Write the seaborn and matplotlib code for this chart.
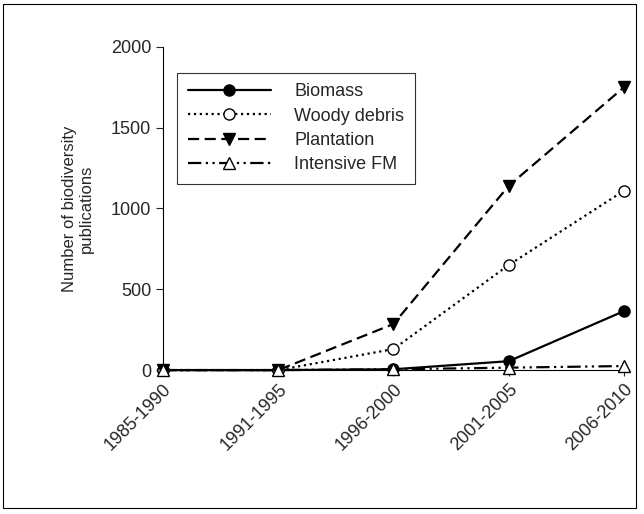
import matplotlib
matplotlib.use("Agg")
import matplotlib.pyplot as plt
import seaborn as sns
import pandas as pd
from matplotlib.patches import Rectangle

periods = ["1985-1990", "1991-1995", "1996-2000", "2001-2005", "2006-2010"]
biomass = [0, 0, 5, 55, 365]
woody = [0, 0, 130, 650, 1110]
plantation = [0, 0, 285, 1140, 1750]
intensive = [0, 0, 5, 15, 25]

series = {
    "Biomass": (biomass, "-", "o", "black"),
    "Woody debris": (woody, ":", "o", "white"),
    "Plantation": (plantation, (0, (5, 2.5)), "v", "black"),
    "Intensive FM": (intensive, (0, (6, 2, 1, 2, 1, 2)), "^", "white"),
}

sns.set_style("white")
plt.rcParams["font.family"] = ["Liberation Sans", "DejaVu Sans"]

fig = plt.figure(figsize=(6.44, 5.14), dpi=100)
ax = fig.add_axes([0.253, 0.280, 0.716, 0.629])

for name, (vals, ls, mk, fc) in series.items():
    df = pd.DataFrame({"x": list(range(len(periods))), "y": vals})
    sns.lineplot(data=df, x="x", y="y", ax=ax, color="black", linestyle=ls,
                 marker=mk, markerfacecolor=fc, markeredgecolor="black",
                 markersize=8, markeredgewidth=1.0, linewidth=1.6, label=name,
                 clip_on=False, zorder=3)

ax.set_xlim(0, 4)
ax.set_ylim(0, 2000)
ax.set_yticks([0, 500, 1000, 1500, 2000])
ax.set_xticks(range(len(periods)))
ax.set_xticklabels(periods, rotation=45, ha="right", rotation_mode="anchor", fontsize=13)
ax.tick_params(axis="y", labelsize=13, length=5, direction="out", left=True, width=0.8)
ax.tick_params(axis="x", length=4, direction="out", bottom=True, width=0.8)
ax.set_xlabel("")
ax.set_ylabel("Number of biodiversity\npublications", fontsize=12, labelpad=12)
for s in ["top", "right"]:
    ax.spines[s].set_visible(False)
for s in ["left", "bottom"]:
    ax.spines[s].set_color("black")
    ax.spines[s].set_linewidth(0.8)

leg = ax.legend(loc="upper left", bbox_to_anchor=(0.03, 0.92), borderaxespad=0,
                fontsize=13, frameon=True, fancybox=False, edgecolor="black",
                handlelength=4.6, handletextpad=1.3, borderpad=0.6, labelspacing=0.4)
leg.get_frame().set_linewidth(0.8)

fig.patches.append(Rectangle((0.005, 0.012), 0.983, 0.98, transform=fig.transFigure,
                             fill=False, edgecolor="black", linewidth=0.8))
fig.savefig("out.png", dpi=100)
